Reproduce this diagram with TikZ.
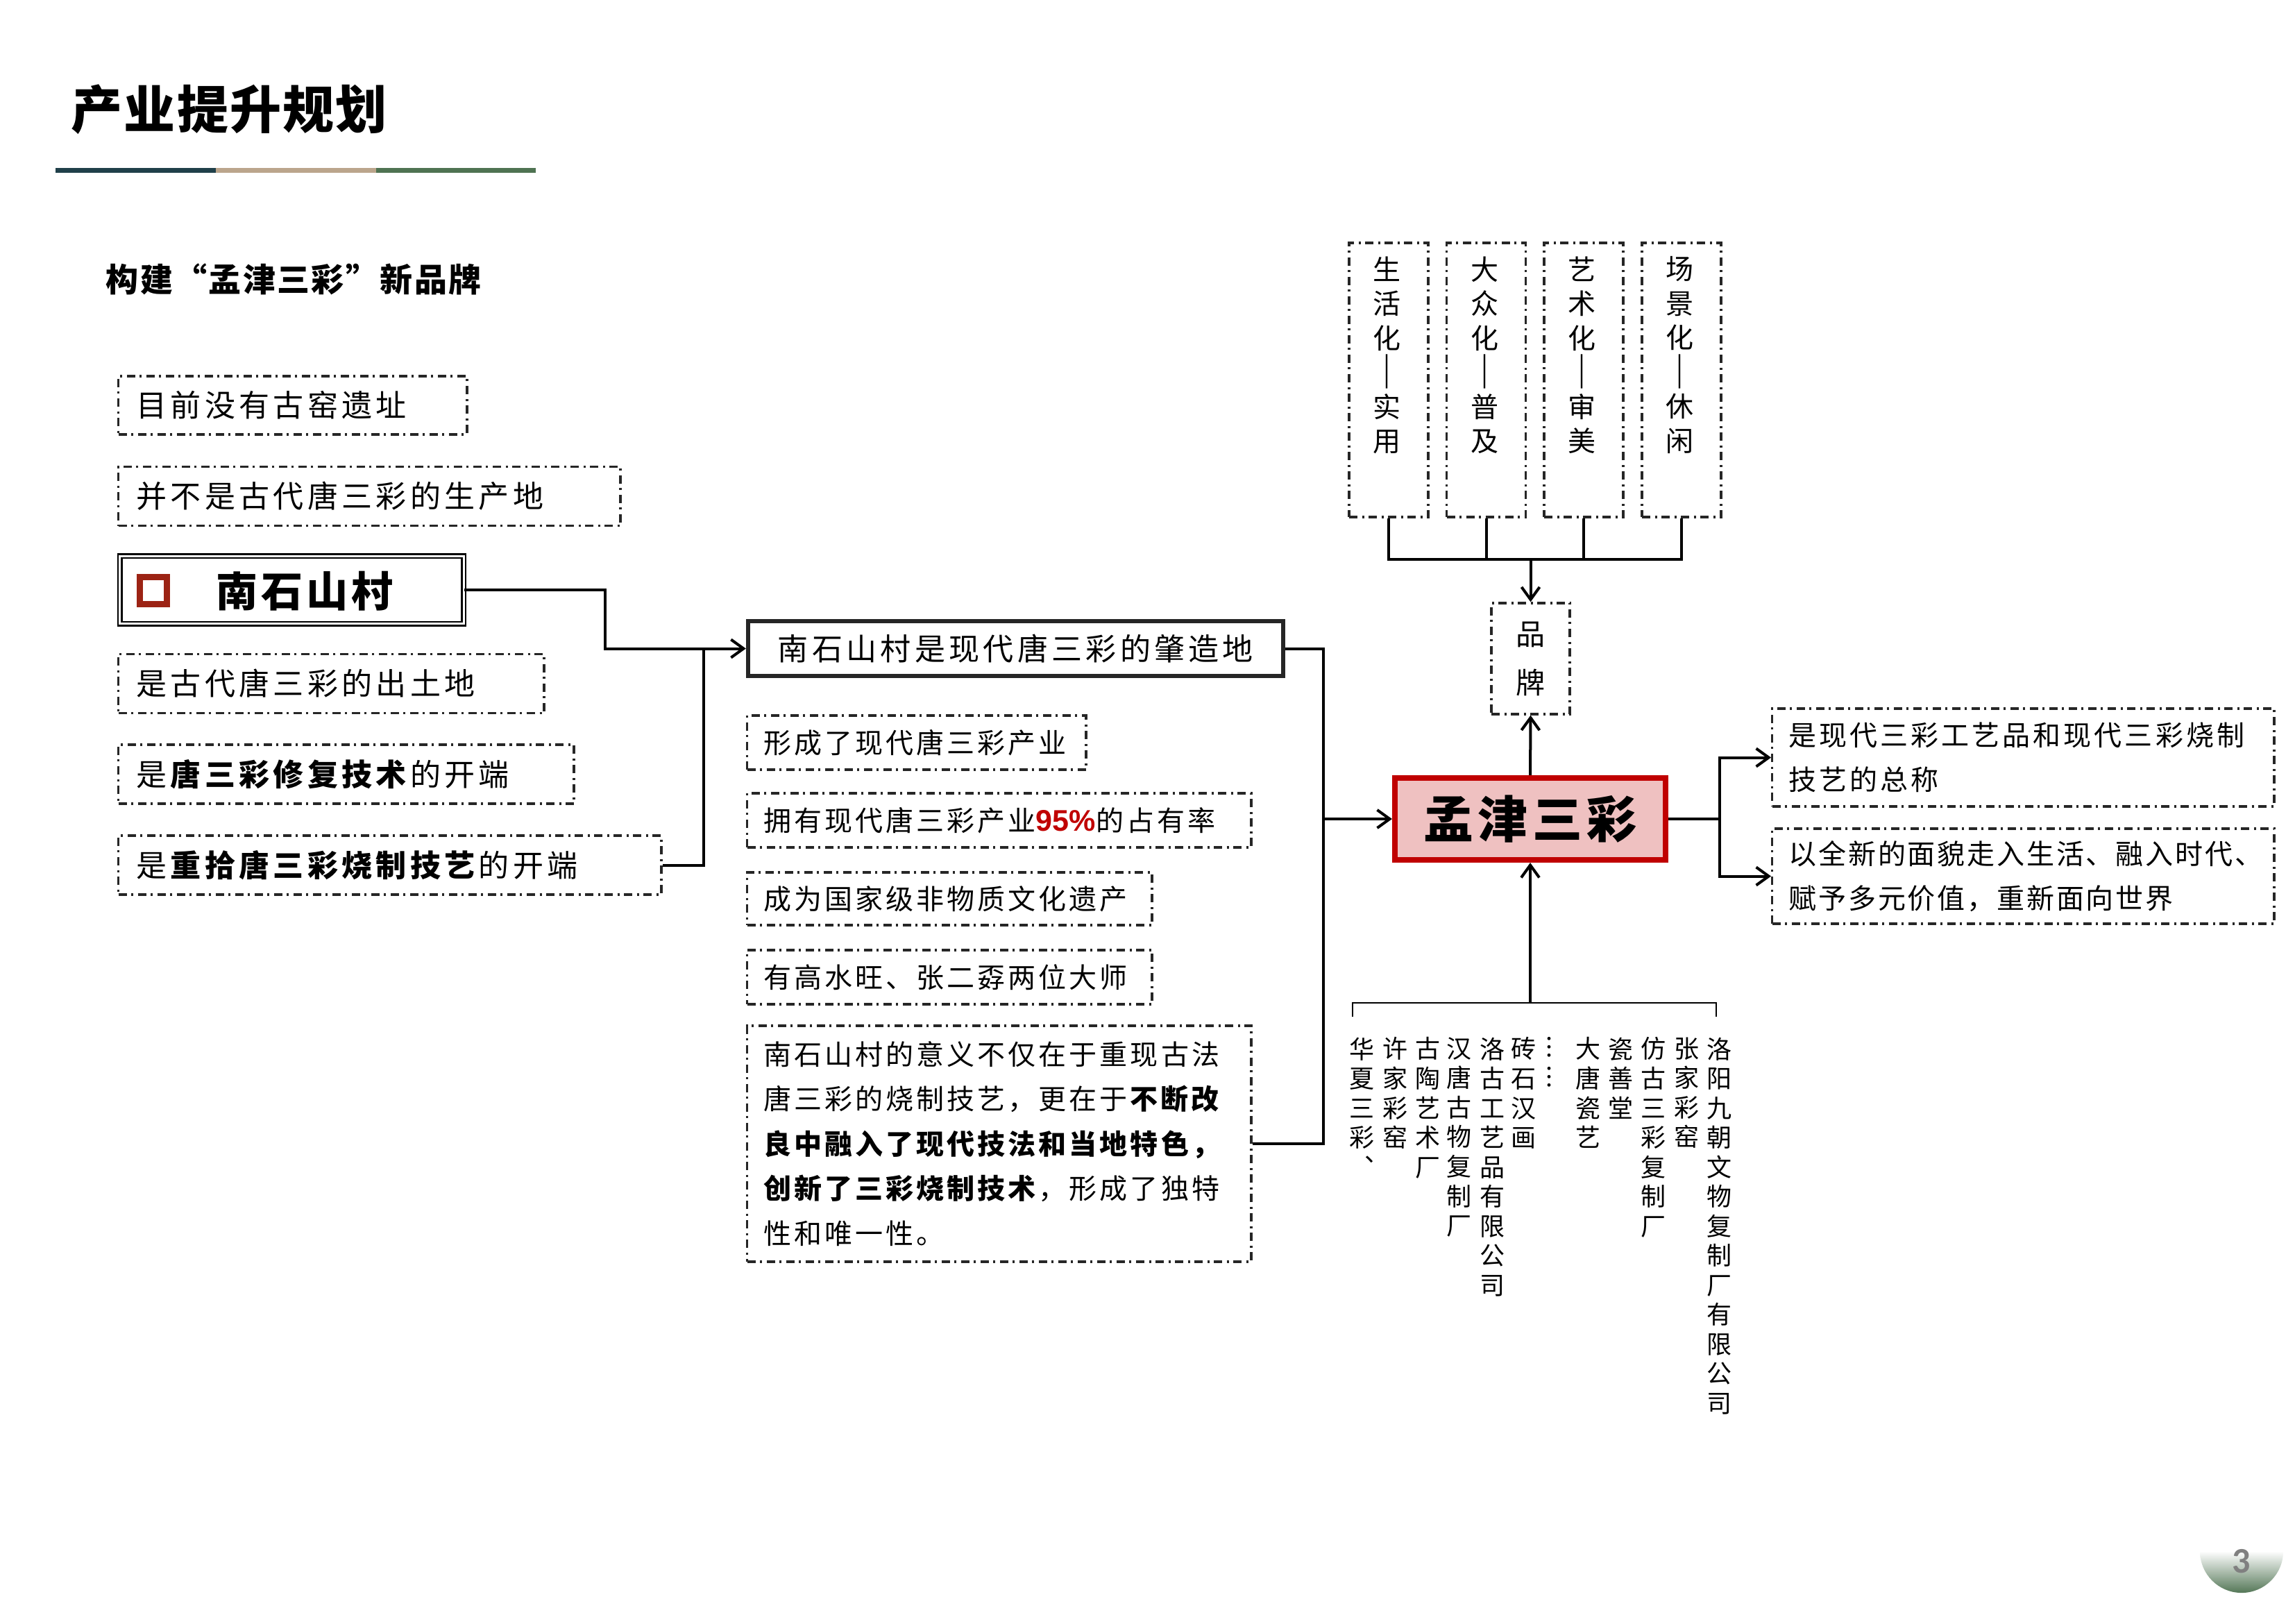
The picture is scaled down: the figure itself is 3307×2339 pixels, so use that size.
\documentclass[tikz,border=0pt]{standalone}
\usepackage{graphicx}
\usepackage{fontspec}
\setmainfont{Noto Sans CJK SC}
\newfontfamily\arialb{Liberation Sans}
\newfontfamily\pgfont{Carlito}
\usetikzlibrary{arrows.meta}
\newcommand\fsz[2]{\fontsize{#1}{#2}\selectfont}
\newcommand\lsp[1]{\addfontfeature{LetterSpace=#1}}
\newcommand\vdashbar{{\bfseries\raisebox{-0.06cm}{\scalebox{1.2}[1.45]{︱}}}}
\definecolor{barA}{HTML}{20404A}
\definecolor{barB}{HTML}{BBA58C}
\definecolor{barC}{HTML}{4F7352}
\definecolor{mjred}{HTML}{C00000}
\definecolor{mjfill}{HTML}{EFC1C1}
\definecolor{sqred}{HTML}{9C2314}
\definecolor{boxgray}{HTML}{262626}
\begin{document}
\begin{tikzpicture}[x=0.01cm,y=-0.01cm,
  ddbox/.style={draw=boxgray, line width=0.033cm, dash pattern=on 0.12cm off 0.065cm on 0.03cm off 0.065cm, rectangle, inner sep=0pt},
  conn/.style={draw=black, line width=0.04cm},
  arr/.style={conn, -{Straight Barb[length=0.18cm,width=0.26cm]}},
  lbox/.style={ddbox, anchor=west, align=left, inner xsep=0.26cm, font=\fsz{0.44cm}{0.5cm}\lsp{12}},
  rbox/.style={ddbox, anchor=west, align=left, inner xsep=0.24cm, font=\fsz{0.40cm}{0.645cm}\lsp{10}},
  vtext/.style={anchor=north, align=center, inner sep=0pt, font=\fsz{0.40cm}{0.495cm}},
  ltext/.style={anchor=north, align=center, inner sep=0pt, font=\fsz{0.36cm}{0.425cm}},
  vbox/.style={ddbox, minimum width=1.14cm, minimum height=3.95cm}
]
\fill[white] (0,0) rectangle (3307,2339);
\useasboundingbox (0,0) rectangle (3307,2339);

% title and bar
\node[anchor=west, inner sep=0pt, font=\fsz{0.74cm}{0.8cm}\bfseries\lsp{3}] (title) at (102,158) {产业提升规划};
\fill[barA] (80,241.5) rectangle (311,248.5);
\fill[barB] (311,241.5) rectangle (542,248.5);
\fill[barC] (542,241.5) rectangle (772,248.5);

\node[anchor=west, inner sep=0pt, font=\fsz{0.47cm}{0.5cm}\bfseries\lsp{5}] (sub) at (152,402) {构建“孟津三彩”新品牌};

% left column
\node[lbox, text width=4.50cm, minimum height=0.84cm] (B1) at (169,584) {目前没有古窑遗址};
\node[lbox, text width=6.71cm, minimum height=0.85cm] (B2) at (169,715) {并不是古代唐三彩的生产地};
\node[draw=black, double, line width=0.025cm, double distance=0.03cm, minimum width=4.95cm, minimum height=0.97cm, inner sep=0pt] (B3) at (420.5,850) {};
\draw[sqred, line width=0.09cm] (201.5,831.5) rectangle (240.5,870.5);
\node[anchor=west, inner sep=0pt, font=\fsz{0.60cm}{0.7cm}\bfseries\lsp{8}] (B3t) at (311,852) {南石山村};
\node[lbox, text width=5.61cm, minimum height=0.85cm] (B4) at (169,985) {是古代唐三彩的出土地};
\node[lbox, text width=6.04cm, minimum height=0.85cm] (B5) at (169,1115.5) {是\textbf{唐三彩修复技术}的开端};
\node[lbox, text width=7.30cm, minimum height=0.85cm] (B6) at (169,1246.5) {是\textbf{重拾唐三彩烧制技艺}的开端};

% middle column
\node[draw=boxgray, line width=0.06cm, minimum width=7.71cm, minimum height=0.79cm, inner sep=0pt, font=\fsz{0.44cm}{0.5cm}\lsp{12}] (M) at (1463.5,934.5) {南石山村是现代唐三彩的肇造地};
\node[rbox, text width=4.40cm, minimum height=0.78cm] (B7) at (1075,1070) {形成了现代唐三彩产业};
\node[rbox, text width=6.78cm, minimum height=0.78cm] (B8) at (1075,1182) {拥有现代唐三彩产业{\arialb\bfseries\fsz{0.43cm}{0.5cm}\color{mjred}95\%}的占有率};
\node[rbox, text width=5.35cm, minimum height=0.76cm] (B9) at (1075,1295) {成为国家级非物质文化遗产};
\node[rbox, text width=5.35cm, minimum height=0.78cm] (B10) at (1075,1408) {有高水旺、张二孬两位大师};
\node[rbox, text width=6.78cm, minimum height=3.40cm] (B11) at (1075,1648) {南石山村的意义不仅在于重现古法\\唐三彩的烧制技艺，更在于\textbf{不断改}\\\textbf{良中融入了现代技法和当地特色，}\\\textbf{创新了三彩烧制技术}，形成了独特\\性和唯一性。};

% center
\node[draw=mjred, fill=mjfill, line width=0.08cm, minimum width=3.90cm, minimum height=1.18cm, inner sep=0pt, font=\fsz{0.72cm}{0.8cm}\bfseries\lsp{9}] (MJ) at (2205,1180) {孟津三彩};
\node[ddbox, minimum width=1.13cm, minimum height=1.60cm, align=center, font=\fsz{0.42cm}{0.70cm}] (PP) at (2205.5,949) {品\\牌};

% top vertical boxes
\node[vbox] (V1) at (2001,547.5) {};
\node[vbox] (V2) at (2141.5,547.5) {};
\node[vbox] (V3) at (2282,547.5) {};
\node[vbox] (V4) at (2423,547.5) {};
\node[vtext] (V1t) at (1998,369) {生\\活\\化\\\vdashbar\\实\\用};
\node[vtext] (V2t) at (2139,369) {大\\众\\化\\\vdashbar\\普\\及};
\node[vtext] (V3t) at (2279,369) {艺\\术\\化\\\vdashbar\\审\\美};
\node[vtext] (V4t) at (2420,369) {场\\景\\化\\\vdashbar\\休\\闲};

% right boxes
\node[rbox, text width=6.75cm, minimum height=1.41cm] (R1) at (2552,1091.5) {是现代三彩工艺品和现代三彩烧制\\技艺的总称};
\node[rbox, text width=6.75cm, minimum height=1.37cm, font=\fsz{0.40cm}{0.635cm}\lsp{7}] (R2) at (2552,1262.5) {以全新的面貌走入生活、融入时代、\\赋予多元价值，重新面向世界};

% bottom columns
\node[ltext] (C1) at (1962,1494) {华\\夏\\三\\彩\\︑};
\node[ltext] (C2) at (2010,1494) {许\\家\\彩\\窑};
\node[ltext] (C3) at (2057,1494) {古\\陶\\艺\\术\\厂};
\node[ltext] (C4) at (2102,1494) {汉\\唐\\古\\物\\复\\制\\厂};
\node[ltext] (C5) at (2150,1494) {洛\\古\\工\\艺\\品\\有\\限\\公\\司};
\node[ltext] (C6) at (2195,1494) {砖\\石\\汉\\画};
\node[ltext] (C7) at (2232,1494) {︙\\︙};
\node[ltext] (C8) at (2288,1494) {大\\唐\\瓷\\艺};
\node[ltext] (C9) at (2335,1494) {瓷\\善\\堂};
\node[ltext] (C10) at (2382,1494) {仿\\古\\三\\彩\\复\\制\\厂};
\node[ltext] (C11) at (2430,1494) {张\\家\\彩\\窑};
\node[ltext] (C12) at (2477,1494) {洛\\阳\\九\\朝\\文\\物\\复\\制\\厂\\有\\限\\公\\司};

% connectors left
\coordinate (j1) at (872,850);
\coordinate (j2) at (1014,934.5);
\draw[arr] (B3.east) -- (j1) |- (M.west);
\draw[conn] (B6.east) -| (j2);
% connectors middle
\coordinate (j3) at (1907,934.5);
\draw[conn] (M.east) -- (j3) |- (B11.east);
\draw[arr] (j3 |- MJ.west) -- (MJ.west);
% right
\coordinate (j4) at (2478,1180);
\draw[conn] (MJ.east) -- (j4);
\draw[arr] (j4) |- (R1.west);
\draw[arr] (j4) |- (R2.west);
% top
\coordinate (bus) at (2205.5,806);
\draw[conn] (V1.south) -- (V1.south |- bus) -- (V4.south |- bus) -- (V4.south);
\draw[conn] (V2.south) -- (V2.south |- bus);
\draw[conn] (V3.south) -- (V3.south |- bus);
\draw[arr] (bus) -- (PP.north);
\draw[arr] (MJ.north) -- (PP.south);
% bottom bracket
\coordinate (BL) at (1949,1465);
\coordinate (BR) at (2473,1465);
\coordinate (BM) at (2205,1445);
\draw[line width=0.012cm] (BL) -- (BL |- BM) -- (BR |- BM) -- (BR);
\draw[arr] (BM) -- (MJ.south);

% page number
\begin{scope}
\clip (3230,2235) circle [radius=0.6cm];
\shade[top color=white, bottom color=barC] (3168,2235) rectangle (3292,2297);
\end{scope}
\node[font=\pgfont\bfseries\fsz{0.52cm}{0.6cm}, text=black!50, inner sep=0pt] (pg) at (3230,2250) {3};
\end{tikzpicture}
\end{document}
